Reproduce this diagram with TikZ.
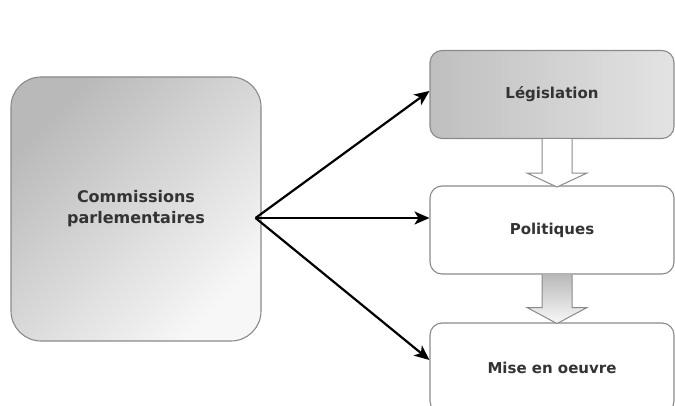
\documentclass[tikz,border=0pt]{standalone}
\usepackage{fontspec}
\setmainfont{DejaVu Sans}
\usetikzlibrary{calc,arrows.meta}
\definecolor{txt}{HTML}{333333}
\definecolor{edge}{HTML}{8A8A8A}
\begin{document}
\begin{tikzpicture}[x=1pt,y=-1pt,
  box/.style={draw=edge,line width=1.1pt,rounded corners=12pt,minimum width=244pt,minimum height=88pt,
    text=txt,font=\bfseries\fontsize{15}{18}\selectfont,inner sep=0pt},
  bigarrow/.style={-{Stealth[length=15pt,width=13pt,inset=4pt]},line width=2.2pt,black},
  hollow/.style={draw=edge,line width=1pt,fill=white}]
\useasboundingbox (0,0) rectangle (675,406);
\node[draw=edge,line width=1.1pt,rounded corners=30pt,minimum width=250pt,minimum height=264pt,
  shade,top color=gray!55,bottom color=gray!6,shading angle=45,
  text=txt,align=center,font=\bfseries\fontsize{16}{21}\selectfont,inner sep=0pt] (cp) at (136,209) {Commissions\\parlementaires};
\node[box,shade,left color=gray!50,middle color=white,right color=gray!22] (leg) at (552,94.5) {Législation};
\node[box,fill=white] (pol) at (552,230) {Politiques};
\node[box,fill=white,minimum height=90pt] (mise) at (552,368) {Mise en oeuvre};
% hollow arrows
\draw[hollow] ($(leg.south)+(-10,0)$) -- ($(leg.south)+(-10,34)$) -- ($(leg.south)+(-25,34)$)
  -- ($(leg.south)+(5,48)$) -- ($(leg.south)+(35,34)$) -- ($(leg.south)+(20,34)$) -- ($(leg.south)+(20,0)$);
\shade[draw=edge,line width=1pt,top color=gray!55,bottom color=gray!5]
  ($(pol.south)+(-10,0)$) -- ($(pol.south)+(-10,33)$) -- ($(pol.south)+(-25,33)$)
  -- ($(pol.south)+(5,49)$) -- ($(pol.south)+(35,33)$) -- ($(pol.south)+(20,33)$) -- ($(pol.south)+(20,0)$);
% black arrows
\coordinate (o) at ($(cp.east)+(-6,9)$);
\draw[bigarrow] (o) -- ([yshift=3.5pt]leg.west);
\draw[bigarrow] (o) -- ([yshift=12pt]pol.west);
\draw[bigarrow] (o) -- ([yshift=8pt]mise.west);
\end{tikzpicture}
\end{document}
